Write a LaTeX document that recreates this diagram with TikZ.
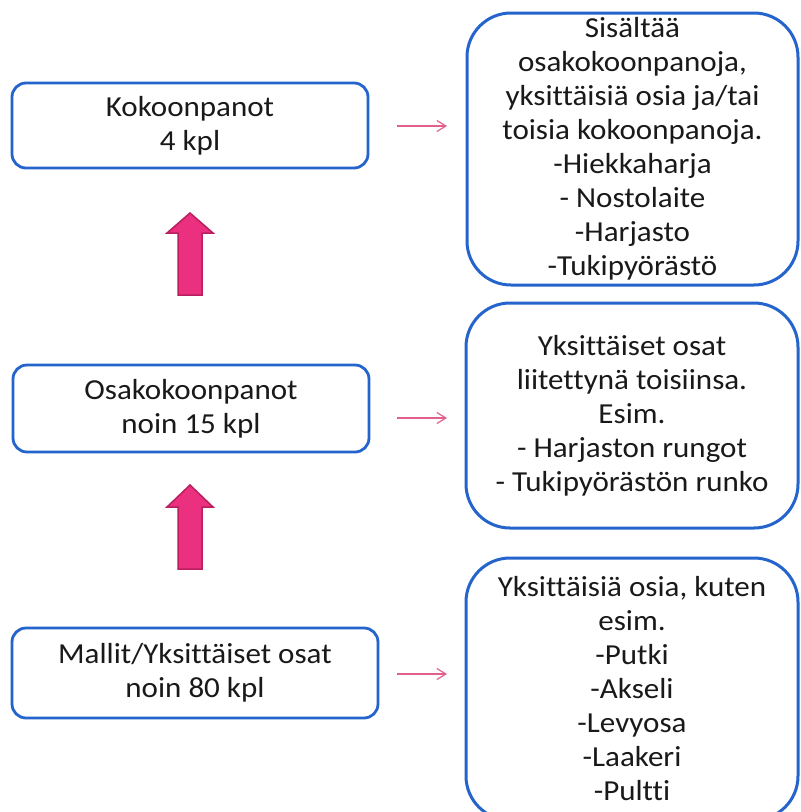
\documentclass[tikz,border=0pt]{standalone}
\usepackage{fontspec}
\setmainfont{Carlito}[FakeStretch=1.07,Ligatures=NoCommon]
\usetikzlibrary{arrows.meta}
\definecolor{boxblue}{RGB}{36,100,204}
\definecolor{pinkfill}{RGB}{236,48,128}
\definecolor{pinkedge}{RGB}{185,30,95}
\definecolor{thinpink}{RGB}{228,96,140}
\definecolor{txt}{RGB}{25,25,25}
\begin{document}
\begin{tikzpicture}[x=1pt,y=-1pt,
  leftbox/.style={draw=boxblue,line width=2.8pt,rounded corners=14pt,fill=white,align=center,
    font=\fontsize{29}{34}\selectfont,text=txt,inner sep=0pt},
  rightbox/.style={draw=boxblue,line width=3pt,rounded corners=44pt,fill=white,align=center,
    font=\fontsize{29}{34}\selectfont,text=txt,inner sep=0pt},
  smallarrow/.style={draw=thinpink,line width=1.2pt,-{Straight Barb[length=9pt,width=11pt]}},
  blockarrow/.style={fill=pinkfill,draw=pinkedge,line width=1.5pt,line join=miter}]
\useasboundingbox (0,0) rectangle (801,812);
\clip (0,0) rectangle (801,812);
\fill[white] (0,0) rectangle (801,812);

% left boxes
\node[leftbox,minimum width=356pt,minimum height=85pt] (k1) at (190,125.5) {Kokoonpanot\\4 kpl};
\node[leftbox,minimum width=356pt,minimum height=87pt] (k2) at (191,408.5) {Osakokoonpanot\\noin 15 kpl};
\node[leftbox,minimum width=366pt,minimum height=90pt] (k3) at (195,673) {Mallit/Yksittäiset osat\\noin 80 kpl};

% right boxes
\node[rightbox,minimum width=331pt,minimum height=272pt] (rA) at (632.5,149)
  {Sisältää\\osakokoonpanoja,\\yksittäisiä osia ja/tai\\toisia kokoonpanoja.\\-Hiekkaharja\\- Nostolaite\\-Harjasto\\-Tukipyörästö};
\node[rightbox,minimum width=332pt,minimum height=225pt] (rB) at (632,415.5)
  {Yksittäiset osat\\liitettynä toisiinsa.\\Esim.\\- Harjaston rungot\\- Tukipyörästön runko};
\node[rightbox,minimum width=332pt,minimum height=262pt] (rC) at (632,689)
  {Yksittäisiä osia, kuten\\esim.\\-Putki\\-Akseli\\-Levyosa\\-Laakeri\\-Pultti};

% small arrows
\coordinate (s1) at (397,126); \coordinate (e1) at (447,126);
\coordinate (s2) at (397,418); \coordinate (e2) at (447,418);
\coordinate (s3) at (397,674); \coordinate (e3) at (447,674);
\draw[smallarrow] (s1) -- (e1);
\draw[smallarrow] (s2) -- (e2);
\draw[smallarrow] (s3) -- (e3);

% block arrows
\draw[blockarrow] (178,295) -- (178,233) -- (167,233) -- (190,213) -- (213,233) -- (202,233) -- (202,295) -- cycle;
\draw[blockarrow] (178,569) -- (178,507) -- (167,507) -- (190,485) -- (213,507) -- (202,507) -- (202,569) -- cycle;
\end{tikzpicture}
\end{document}
